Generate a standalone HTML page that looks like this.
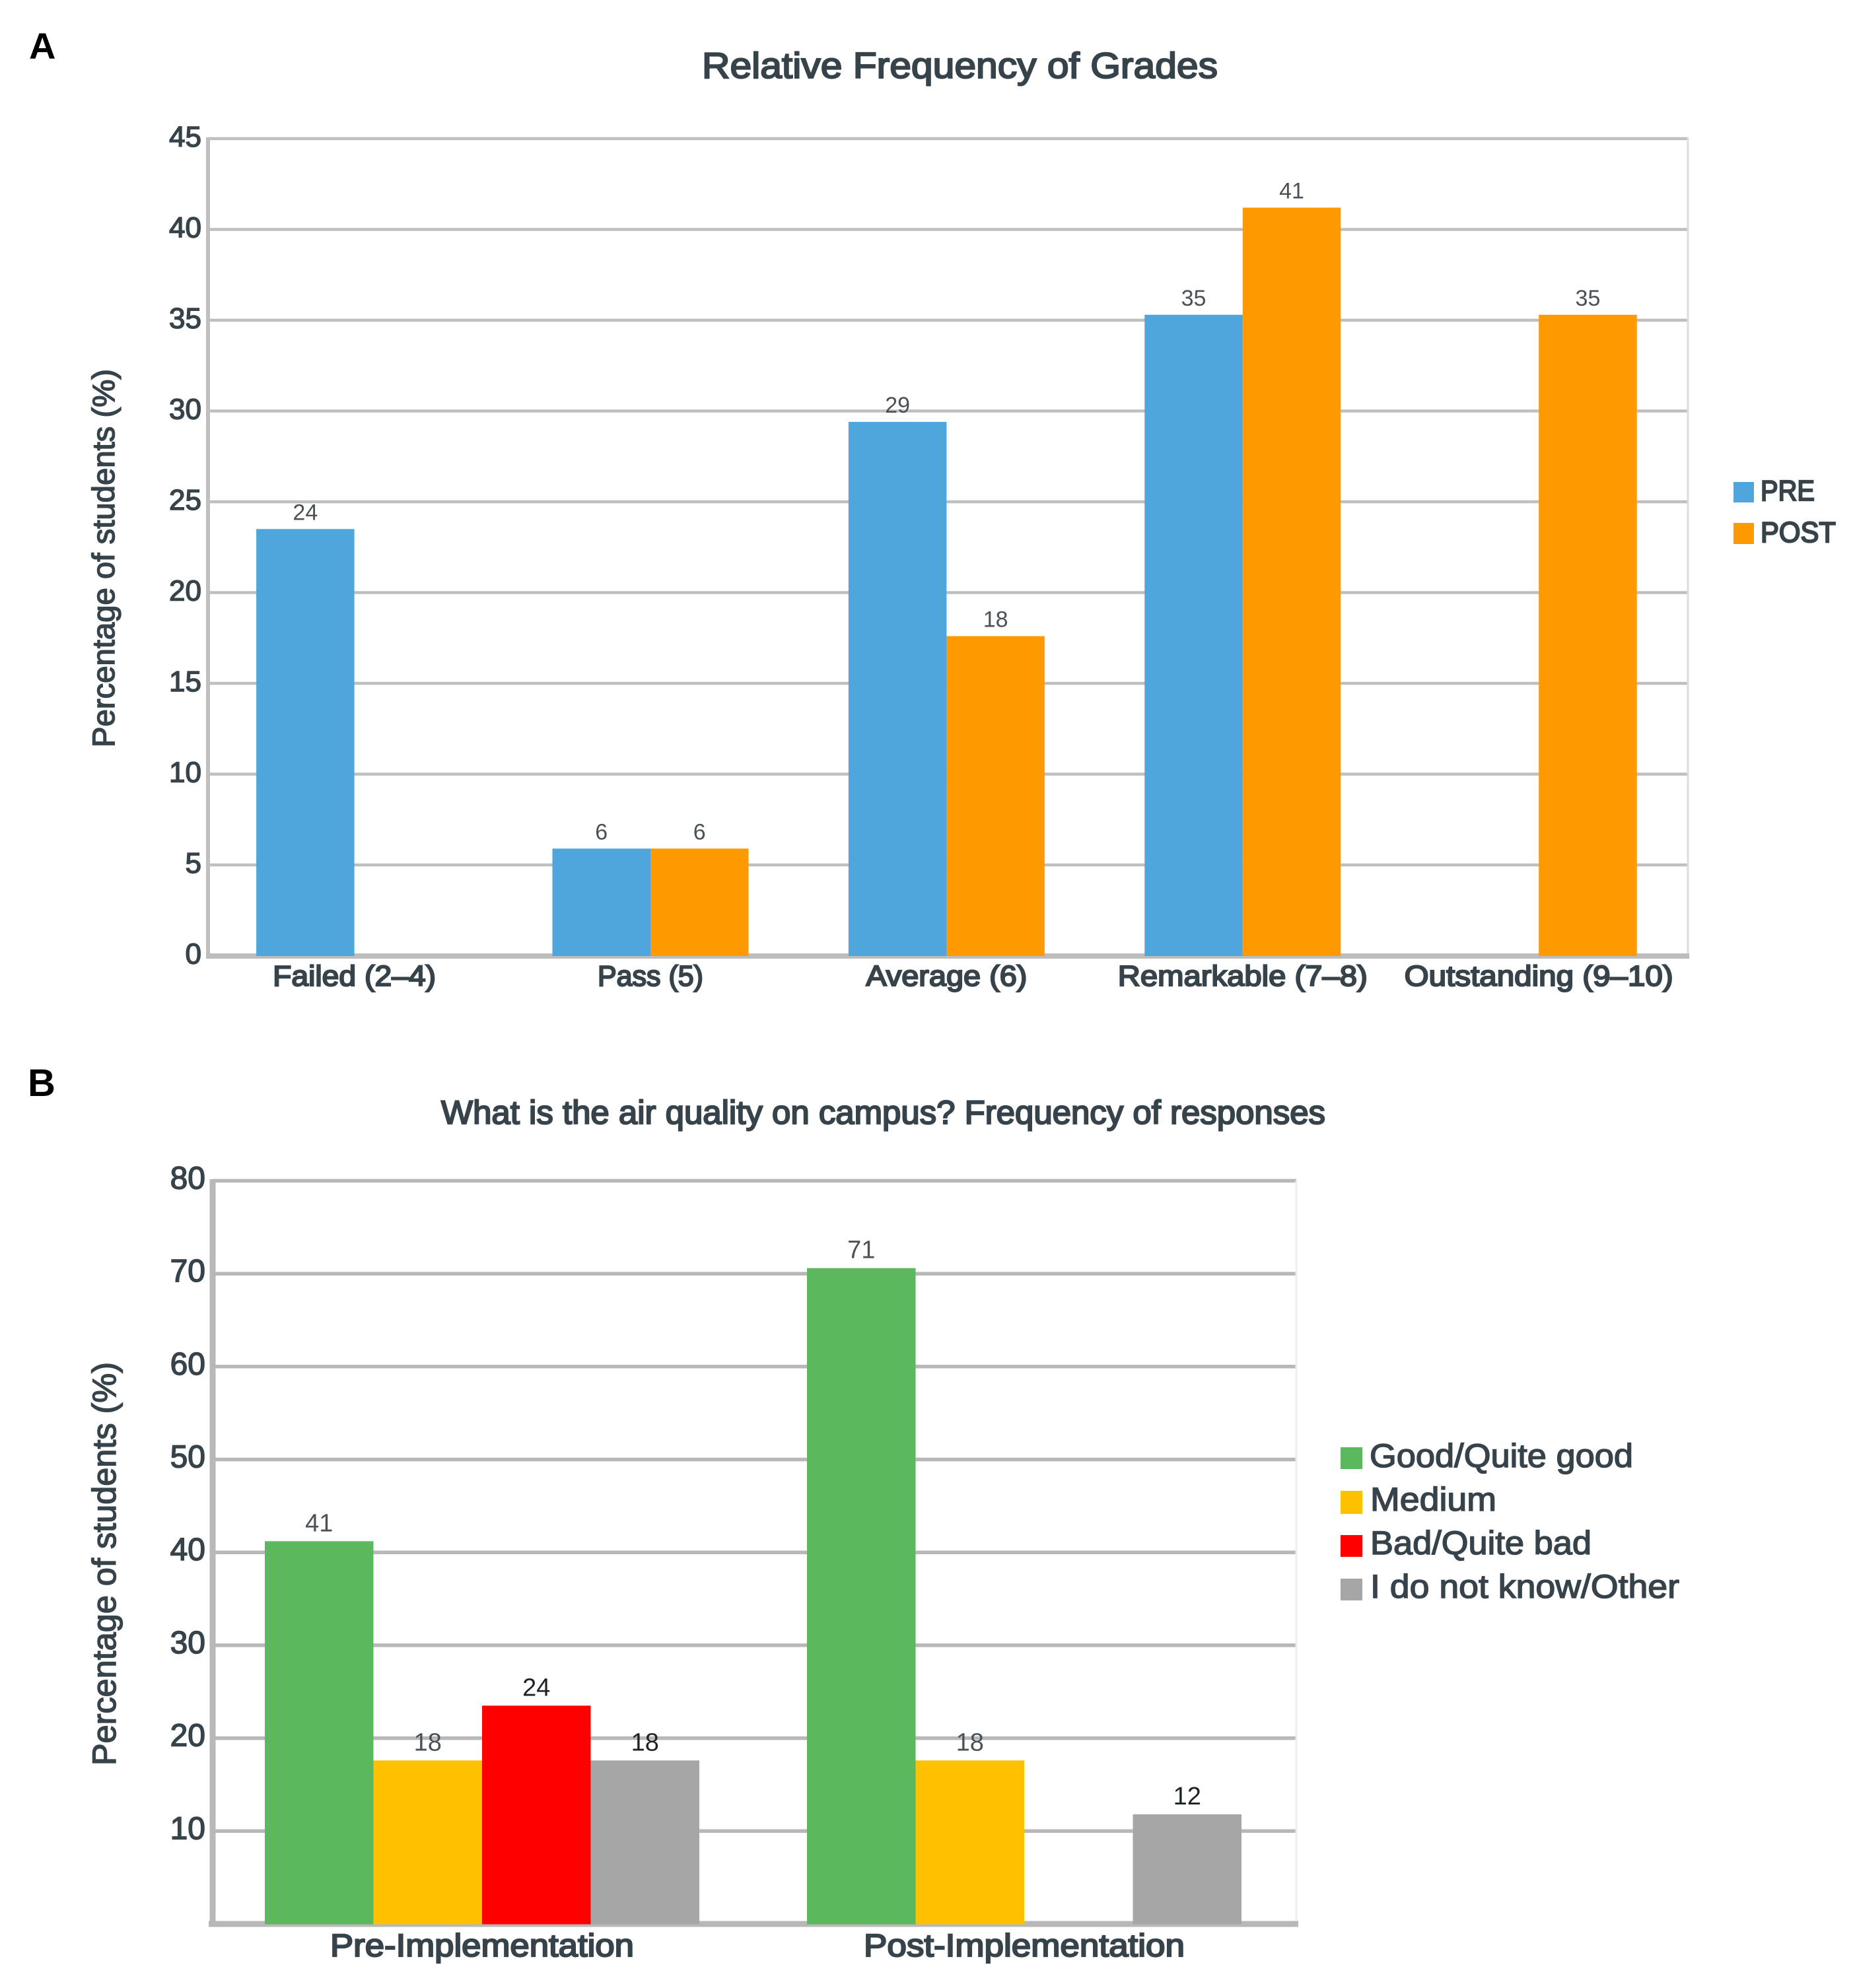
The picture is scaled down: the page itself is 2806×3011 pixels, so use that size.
<!DOCTYPE html>
<html lang="en">
<head>
<meta charset="utf-8">
<title>Relative Frequency of Grades and Air Quality Responses</title>
<style>
  html, body { margin: 0; padding: 0; background: #ffffff; }
  svg { display: block; font-family: "Liberation Sans", sans-serif; }
  .ink { fill: #37434a; stroke: #37434a; stroke-width: 1.5px; }
  .heavy { fill: #37434a; stroke: #37434a; stroke-width: 2.2px; }
  .value { fill: #4a5257; }
  .value-dark { fill: #1c2226; }
</style>
</head>
<body>
<svg id="figure" xmlns="http://www.w3.org/2000/svg" width="2806" height="3011" viewBox="0 0 2806 3011">
  <rect x="0" y="0" width="2806" height="3011" fill="#ffffff"/>

  <text x="44" y="89" font-size="56" font-weight="bold" fill="#000000">A</text>
  <text class="heavy" x="1063" y="118" font-size="55" textLength="781" lengthAdjust="spacingAndGlyphs">Relative Frequency of Grades</text>
  <text class="ink" x="173" y="1132" font-size="47" textLength="573" lengthAdjust="spacingAndGlyphs" transform="rotate(-90 173 1132)">Percentage of students (%)</text>
  <g id="chart-a"></g>
  <g>
    <rect x="2625" y="730" width="31" height="31" fill="#4ea6dc"/>
    <text class="heavy" x="2666" y="758" font-size="44" textLength="82" lengthAdjust="spacingAndGlyphs">PRE</text>
    <rect x="2625" y="792" width="31" height="32" fill="#ff9900"/>
    <text class="heavy" x="2666" y="821" font-size="44" textLength="114" lengthAdjust="spacingAndGlyphs">POST</text>
  </g>

  <text x="42" y="1660" font-size="58" font-weight="bold" fill="#000000">B</text>
  <text class="heavy" x="668" y="1702" font-size="50" textLength="1339" lengthAdjust="spacingAndGlyphs">What is the air quality on campus? Frequency of responses</text>
  <text class="ink" x="175" y="2674" font-size="50" textLength="611" lengthAdjust="spacingAndGlyphs" transform="rotate(-90 175 2674)">Percentage of students (%)</text>
  <g id="chart-b"></g>
  <g>
    <rect x="2030" y="2192" width="33" height="33" fill="#5cb85c"/>
    <text class="ink" x="2074" y="2222" font-size="50" textLength="399" lengthAdjust="spacingAndGlyphs">Good/Quite good</text>
    <rect x="2030" y="2258" width="33" height="35" fill="#ffc000"/>
    <text class="ink" x="2075" y="2288" font-size="50" textLength="191" lengthAdjust="spacingAndGlyphs">Medium</text>
    <rect x="2030" y="2325" width="33" height="33" fill="#ff0000"/>
    <text class="ink" x="2075" y="2354" font-size="50" textLength="335" lengthAdjust="spacingAndGlyphs">Bad/Quite bad</text>
    <rect x="2030" y="2391" width="33" height="33" fill="#a6a6a6"/>
    <text class="ink" x="2075" y="2420" font-size="50" textLength="468" lengthAdjust="spacingAndGlyphs">I do not know/Other</text>
  </g>
</svg>

<script>
// ---- Chart A data ----
const gradeCategories = ['Failed (2–4)', 'Pass (5)', 'Average (6)', 'Remarkable (7–8)', 'Outstanding (9–10)'];
const gradeTicks = [0, 5, 10, 15, 20, 25, 30, 35, 40, 45];
const preValues = [23.5, 5.9, 29.4, 35.3, null];
const postValues = [null, 5.9, 17.6, 41.2, 35.3];
const preLabels = ['24', '6', '29', '35', null];
const postLabels = [null, '6', '18', '41', '35'];

// ---- Chart B data ----
const airCategories = ['Pre-Implementation', 'Post-Implementation'];
const airTicks = [10, 20, 30, 40, 50, 60, 70, 80];
const goodValues = [41.2, 70.6];
const mediumValues = [17.6, 17.6];
const badValues = [23.5, null];
const otherValues = [17.6, 11.8];
const goodLabels = ['41', '71'];
const mediumLabels = ['18', '18'];
const badLabels = ['24', null];
const otherLabels = ['18', '12'];

// ---- Layout (not data) ----
const NS = 'http://www.w3.org/2000/svg';
const layoutA = { x0: 312.4, band: 448.4, barW: 148.5, base: 1447.5, perUnit: 27.5, left: 315, right: 2556, tickX: 305, tickDrop: 12, gap: 14 };
const layoutB = { x0: 319.5, band: 821, barW: 164.5, base: 2914, perUnit: 14.07, left: 322, right: 1963, tickX: 311, tickDrop: 12, gap: 15 };
const catFitA = [247, 160, 244, 378, 407];
const catFitB = [460, 486];

function yScale(layout, v) { return layout.base - v * layout.perUnit; }
function xCenter(layout, i) { return layout.x0 + layout.band * (i + 0.5); }

function line(parent, name, x1, y1, x2, y2, color, width) {
  const el = document.createElementNS(NS, 'line');
  
  
  el.setAttribute('x1', x1);
  el.setAttribute('y1', y1);
  el.setAttribute('x2', x2);
  el.setAttribute('y2', y2);
  el.setAttribute('stroke', color);
  el.setAttribute('stroke-width', width);
  parent.appendChild(el);
}

function label(parent, name, x, y, str, size, anchor, cls, fit) {
  const el = document.createElementNS(NS, 'text');
  
  
  el.setAttribute('x', x);
  el.setAttribute('y', y);
  el.setAttribute('font-size', size);
  el.setAttribute('text-anchor', anchor);
  el.setAttribute('class', cls);
  if (fit) {
    el.setAttribute('textLength', fit);
    el.setAttribute('lengthAdjust', 'spacingAndGlyphs');
  }
  el.textContent = str;
  parent.appendChild(el);
}

function drawSeries(parent, layout, name, values, labels, color, offset, valueSize, valueClass) {
  values.forEach(function (v, i) {
    if (v === null) return;
    const top = yScale(layout, v);
    const x = xCenter(layout, i) + offset * layout.barW;
    const el = document.createElementNS(NS, 'rect');
    
    
    el.setAttribute('x', x);
    el.setAttribute('y', top);
    el.setAttribute('width', layout.barW);
    el.setAttribute('height', layout.base + 0.5 - top);
    el.setAttribute('fill', color);
    parent.appendChild(el);
    if (labels[i] !== null) {
      label(parent, name + '-value', x + layout.barW / 2, top - layout.gap, labels[i], valueSize, 'middle', valueClass);
    }
  });
}

// ---- Chart A ----
(function () {
  const g = document.getElementById('chart-a');
  const L = layoutA;
  gradeTicks.forEach(function (t) {
    if (t !== 0) {
      line(g, 'gridline', L.left, yScale(L, t), L.right, yScale(L, t), '#bfbfbf', 4.5);
    }
    label(g, 'y-tick-label', L.tickX, yScale(L, t) + L.tickDrop, String(t), 44, 'end', 'ink');
  });
  line(g, 'plot-right-border', L.right, 208, L.right, 1452, '#dddddd', 3);
  line(g, 'y-axis-line', L.left, 208, L.left, 1452, '#bfbfbf', 6);
  line(g, 'x-axis-line', 312, 1448, 2558, 1448, '#bdbdbd', 8);
  drawSeries(g, L, 'bar-pre', preValues, preLabels, '#4ea6dc', -1, 34, 'value');
  drawSeries(g, L, 'bar-post', postValues, postLabels, '#ff9900', 0, 34, 'value');
  gradeCategories.forEach(function (c, i) {
    label(g, 'x-category-label', xCenter(L, i), 1493, c, 44, 'middle', 'heavy', catFitA[i]);
  });
})();

// ---- Chart B ----
(function () {
  const g = document.getElementById('chart-b');
  const L = layoutB;
  airTicks.forEach(function (t) {
    line(g, 'gridline', L.left, yScale(L, t), L.right, yScale(L, t), '#b8b8b8', 5.5);
    label(g, 'y-tick-label', L.tickX, yScale(L, t) + L.tickDrop, String(t), 48, 'end', 'ink');
  });
  line(g, 'plot-right-border', L.right, 1788, L.right, 2912, '#eeeeee', 3);
  line(g, 'y-axis-line', L.left, 1786, L.left, 2918, '#b8b8b8', 9);
  line(g, 'x-axis-line', 316, 2914, 1966, 2914, '#b8b8b8', 9);
  drawSeries(g, L, 'bar-good', goodValues, goodLabels, '#5cb85c', -2, 38, 'value');
  drawSeries(g, L, 'bar-medium', mediumValues, mediumLabels, '#ffc000', -1, 38, 'value');
  drawSeries(g, L, 'bar-bad', badValues, badLabels, '#ff0000', 0, 38, 'value-dark');
  drawSeries(g, L, 'bar-other', otherValues, otherLabels, '#a6a6a6', 1, 38, 'value-dark');
  airCategories.forEach(function (c, i) {
    label(g, 'x-category-label', xCenter(L, i), 2963, c, 48, 'middle', 'heavy', catFitB[i]);
  });
})();
</script>
</body>
</html>
